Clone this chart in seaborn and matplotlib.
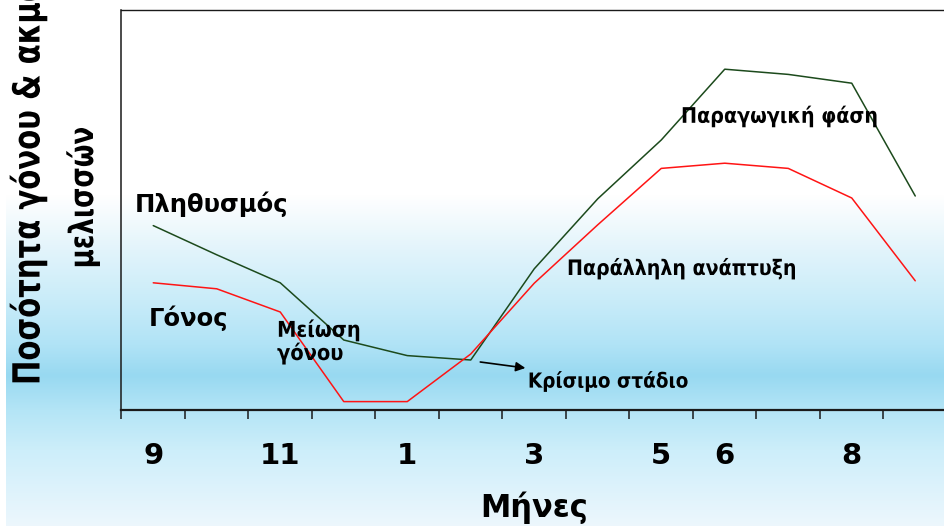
import numpy as np
import pandas as pd
import matplotlib
matplotlib.use("Agg")
import matplotlib.pyplot as plt
from matplotlib.patheffects import AbstractPathEffect
from matplotlib.transforms import Affine2D
import seaborn as sns

# ---- data -------------------------------------------------------------
months = [9, 10, 11, 12, 1, 2, 3, 4, 5, 6, 7, 8, 9]
shown_months = [9, None, 11, None, 1, None, 3, None, 5, 6, None, 8, None]
population = [46.1, 38.8, 31.8, 17.5, 13.6, 12.5, 35.3, 52.8, 67.5, 85.2, 83.9, 81.7, 53.5]
brood = [31.8, 30.3, 24.5, 2.1, 2.1, 14.0, 31.7, 46.3, 60.4, 61.7, 60.4, 53.0, 32.3]
series_names = ["Πληθυσμός", "Γόνος"]

# ---- style ------------------------------------------------------------
sns.set_style("white")
plt.rcParams["font.family"] = ["DejaVu Sans"]
plt.rcParams["font.weight"] = "bold"
plt.rcParams["text.color"] = "black"
plt.rcParams["axes.labelcolor"] = "black"
plt.rcParams["xtick.color"] = "black"

W, H, DPI = 944, 526, 100


class Stretch(AbstractPathEffect):
    """Scale glyph outlines about the text origin (to get a taller/narrower face)."""

    def __init__(self, sx=1.0, sy=1.0):
        super().__init__()
        self.sx, self.sy = sx, sy

    def draw_path(self, renderer, gc, tpath, affine, rgbFace=None):
        ox, oy = affine.transform((0, 0))
        extra = Affine2D().translate(-ox, -oy).scale(self.sx, self.sy).translate(ox, oy)
        renderer.draw_path(gc, tpath, affine + extra, rgbFace)


fig = plt.figure(figsize=(W / DPI, H / DPI), dpi=DPI)
fig.patch.set_facecolor("white")

# soft sky-blue backdrop, white at the top
ys = np.arange(H)
stops_y = [0, 195, 250, 300, 345, 375, 410, 450, 526]
stops_rgb = np.array([
    [255, 255, 255], [255, 255, 255], [226, 244, 251], [201, 236, 249],
    [176, 227, 246], [152, 217, 241], [180, 229, 246], [205, 238, 250],
    [237, 247, 253]]) / 255.0
grad = np.stack([np.interp(ys, stops_y, stops_rgb[:, c]) for c in range(3)], axis=1)
grad = np.repeat(grad[:, None, :], 4, axis=1)
bg = fig.add_axes([6 / W, 0, 1 - 6 / W, 1], zorder=-10)
bg.imshow(grad, aspect="auto", extent=[0, 1, 0, 1], origin="upper", interpolation="bilinear")
bg.axis("off")

# main plotting area
ax_left, ax_right, ax_top, ax_bottom = 121.5, 947.0, 10.0, 410.0
ax = fig.add_axes([ax_left / W, (H - ax_bottom) / H,
                   (ax_right - ax_left) / W, (ax_bottom - ax_top) / H])
ax.set_facecolor("none")

idx = np.arange(len(months))
df = pd.DataFrame({
    "pos": np.concatenate([idx, idx]),
    "value": population + brood,
    "series": [series_names[0]] * len(idx) + [series_names[1]] * len(idx),
})
sns.lineplot(data=df, x="pos", y="value", hue="series",
             palette={series_names[0]: "#1c4a1c", series_names[1]: "#ff1414"},
             linewidth=1.1, legend=False, ax=ax)

ax.set_xlim(-0.5, len(months) - 0.5)
ax.set_ylim(0, 100)
ax.set_yticks([])
ax.set_xticks(idx)
ax.set_xticklabels(["" if m is None else str(m) for m in shown_months],
                   fontsize=21, fontweight="bold", color="black")
ax.set_xticks(np.arange(-0.5, len(months), 1.0), minor=True)
ax.tick_params(axis="x", which="both", bottom=True)
ax.tick_params(axis="x", which="major", length=0, pad=23)
ax.tick_params(axis="x", which="minor", length=6.5, width=1.1, color="#1a1a1a",
               direction="out")
ax.set_ylabel("")
for side, lw in [("bottom", 1.6), ("left", 1.1), ("top", 1.0)]:
    ax.spines[side].set_visible(True)
    ax.spines[side].set_color("#1a1a1a")
    ax.spines[side].set_linewidth(lw)
ax.spines["right"].set_visible(False)

# x axis title
ax.set_xlabel("Μήνες", fontsize=22, fontweight="bold", color="black")
ax.xaxis.set_label_coords(0.5, -(516.7 - ax_bottom) / (ax_bottom - ax_top))
ax.xaxis.label.set_verticalalignment("baseline")

# in-plot annotations
txt = dict(ha="left", va="baseline", fontweight="bold", color="black")
tall = [Stretch(sy=1.12)]
ax.text(-0.287, 49.4, "Πληθυσμός", fontsize=17.5, **txt)
ax.text(-0.067, 21.1, "Γόνος", fontsize=17.5, **txt)
ax.text(1.95, 18.3, "Μείωση", fontsize=14.0, path_effects=tall, **txt)
ax.text(1.95, 12.5, "γόνου", fontsize=14.0, path_effects=tall, **txt)
ax.text(5.90, 5.6, "Κρίσιμο στάδιο", fontsize=13.3, path_effects=tall, **txt)
ax.text(6.516, 33.75, "Παράλληλη ανάπτυξη", fontsize=13.7, path_effects=tall, **txt)
ax.text(8.311, 71.8, "Παραγωγική φάση", fontsize=13.8, path_effects=tall, **txt)
ax.annotate("", xy=(5.86, 10.5), xytext=(5.15, 12.0),
            arrowprops=dict(arrowstyle="-|>", color="black", lw=1.2,
                            mutation_scale=14, shrinkA=0, shrinkB=0))

# y axis title, two lines
stretch = [Stretch(sx=1.28)]
fig.text(39.5 / W, (H - 385) / H, "Ποσότητα γόνου & ακμαίων", rotation=90,
         rotation_mode="anchor", ha="left", va="baseline", fontsize=21,
         fontweight="bold", path_effects=stretch)
fig.text(93 / W, (H - 197.5) / H, "μελισσών", rotation=90,
         rotation_mode="anchor", ha="center", va="baseline", fontsize=18.8,
         fontweight="bold", path_effects=stretch)

fig.savefig("out.png", dpi=DPI)
